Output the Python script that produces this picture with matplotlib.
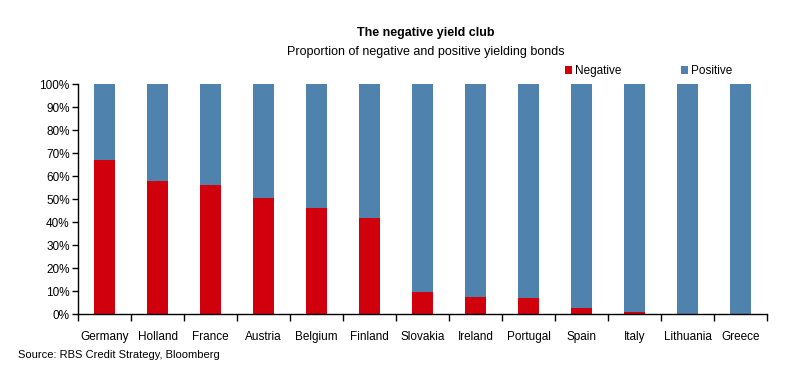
import numpy as np
import matplotlib.pyplot as plt
from matplotlib.ticker import FixedLocator, PercentFormatter

plt.rcParams['font.family'] = ['Liberation Sans', 'DejaVu Sans']

# data
countries = ['Germany', 'Holland', 'France', 'Austria', 'Belgium', 'Finland', 'Slovakia',
             'Ireland', 'Portugal', 'Spain', 'Italy', 'Lithuania', 'Greece']
negative = [67, 58, 56, 50.5, 46, 42, 9.5, 7.5, 7, 2.5, 0.8, 0, 0]
positive = [100 - v for v in negative]

red = '#D0000D'
blue = '#5082AE'

fig = plt.figure(figsize=(8, 3.74), dpi=100)
ax = fig.add_axes([0.0975, 0.160, 0.8615, 0.615])

x = np.arange(len(countries))
ax.bar(x, negative, width=0.4, color=red, label='Negative')
ax.bar(x, positive, width=0.4, bottom=negative, color=blue, label='Positive')

ax.set_xlim(-0.5, len(countries) - 0.5)
ax.set_ylim(0, 100)
ax.set_yticks(np.arange(0, 101, 10))
ax.yaxis.set_major_formatter(PercentFormatter(decimals=0))
ax.set_xticks(x)
ax.set_xticklabels(countries)
ax.xaxis.set_minor_locator(FixedLocator(np.arange(-0.5, len(countries), 1)))
ax.tick_params(axis='x', which='major', length=0, pad=12, labelsize=8.5)
ax.tick_params(axis='x', which='minor', length=5, direction='out', width=1)
ax.tick_params(axis='y', length=4, width=1, labelsize=8.5, pad=2)

for s in ['top', 'right']:
    ax.spines[s].set_visible(False)
ax.spines['left'].set_linewidth(1)
ax.spines['bottom'].set_linewidth(1)

fig.text(0.532, 0.912, 'The negative yield club', ha='center', va='center',
         fontsize=9, fontweight='bold')
fig.text(0.532, 0.862, 'Proportion of negative and positive yielding bonds',
         ha='center', va='center', fontsize=9)
fig.text(0.022, 0.043, 'Source: RBS Credit Strategy, Bloomberg', fontsize=8)

fig.legend(loc='center left', bbox_to_anchor=(0.7, 0.81), ncol=2, frameon=False,
           fontsize=8.5, handlelength=0.6, handleheight=0.6, handletextpad=0.3,
           columnspacing=5, borderaxespad=0)

fig.savefig('out.png', dpi=100)
